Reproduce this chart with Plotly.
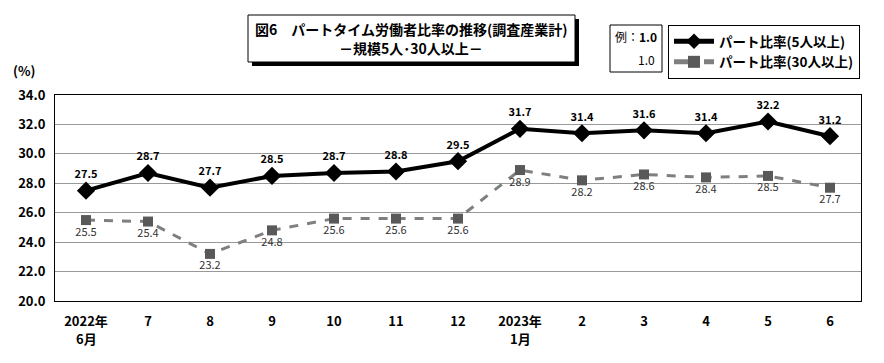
import plotly.graph_objects as go

categories = ["2022年<br>6月", "7", "8", "9", "10", "11", "12", "2023年<br>1月", "2", "3", "4", "5", "6"]
part_5 = [27.5, 28.7, 27.7, 28.5, 28.7, 28.8, 29.5, 31.7, 31.4, 31.6, 31.4, 32.2, 31.2]
part_30 = [25.5, 25.4, 23.2, 24.8, 25.6, 25.6, 25.6, 28.9, 28.2, 28.6, 28.4, 28.5, 27.7]
y_ticks = [20, 22, 24, 26, 28, 30, 32, 34]

FONT = "Noto Sans CJK JP"
OFF = 8  # default page body margin
W, H = 884 - OFF, 363 - OFF
L, R, T, B = 55 - OFF, 861 - OFF, 95 - OFF, 301 - OFF

def px(x):
    return (x - OFF - L) / (R - L)

def py(y):
    return (B - (y - OFF)) / (B - T)

xs = list(range(len(categories)))
first_lines = [c.split("<br>")[0] for c in categories]
second_lines = [c.split("<br>")[1] if "<br>" in c else "" for c in categories]

fig = go.Figure()
fig.add_trace(go.Scatter(
    x=xs, y=part_5, name="<b>パート比率(5人以上)</b>",
    mode="lines+markers+text",
    line=dict(color="black", width=4),
    marker=dict(symbol="diamond", size=14, color="black"),
    text=[f"<b>{v:.1f}</b>" for v in part_5],
    textposition="top center",
    textfont=dict(family=FONT, size=11, color="black"),
))
fig.add_trace(go.Scatter(
    x=xs, y=part_30, name="<b>パート比率(30人以上)</b>",
    mode="lines+markers+text",
    line=dict(color="#7f7f7f", width=3, dash="dash"),
    marker=dict(symbol="square", size=10, color="#595959"),
    text=[f"{v:.1f}" for v in part_30],
    textposition="bottom center",
    textfont=dict(family=FONT, size=11, color="#333333"),
))

fig.update_layout(
    width=W, height=H,
    margin=dict(l=L, r=W - R, t=T, b=H - B, autoexpand=False),
    paper_bgcolor="white", plot_bgcolor="white",
    font=dict(family=FONT, color="black"),
    showlegend=True,
    legend=dict(
        x=px(668), y=py(25), xanchor="left", yanchor="top",
        bordercolor="black", borderwidth=1,
        font=dict(family=FONT, size=13.5, color="black"),
        itemwidth=40, tracegroupgap=0, itemsizing="constant",
        bgcolor="white",
    ),
    xaxis=dict(
        range=[-0.5, len(categories) - 0.5],
        tickmode="array", tickvals=xs,
        ticktext=[f"<b>{c}</b>" for c in first_lines],
        tickfont=dict(family=FONT, size=13, color="black"),
        showgrid=False, zeroline=False,
        showline=True, linecolor="black", linewidth=1, mirror=True,
        ticks="", ticklen=0, ticklabelstandoff=8,
    ),
    yaxis=dict(
        range=[20, 34],
        tickmode="array", tickvals=y_ticks,
        ticktext=[f"<b>{v:.1f}</b>" for v in y_ticks],
        tickfont=dict(family=FONT, size=13, color="black"),
        showgrid=True, gridcolor="#999999", gridwidth=1,
        zeroline=False,
        showline=True, linecolor="black", linewidth=1, mirror=True,
        ticks="", ticklabelstandoff=6,
    ),
)

shapes = []
# title box shadow and box
shapes.append(dict(type="rect", xref="paper", yref="paper",
                   x0=px(252), x1=px(579), y0=py(66), y1=py(19),
                   fillcolor="black", line=dict(width=0), layer="above"))
shapes.append(dict(type="rect", xref="paper", yref="paper",
                   x0=px(248), x1=px(575), y0=py(62), y1=py(15),
                   fillcolor="white", line=dict(color="black", width=1), layer="above"))
# example box
shapes.append(dict(type="rect", xref="paper", yref="paper",
                   x0=px(610), x1=px(662), y0=py(72), y1=py(25),
                   fillcolor="white", line=dict(color="black", width=1), layer="above"))
fig.update_layout(shapes=shapes)

ann = [
    dict(x=px(411), y=py(29), text="<b>図6　パートタイム労働者比率の推移(調査産業計)</b>",
         font=dict(family=FONT, size=14)),
    dict(x=px(411), y=py(48), text="<b>－規模5人･30人以上－</b>",
         font=dict(family=FONT, size=14)),
    dict(x=px(636), y=py(37), text="例：<b>1.0</b>", font=dict(family=FONT, size=12)),
    dict(x=px(646), y=py(59), text="1.0", font=dict(family=FONT, size=12)),
    dict(x=px(24), y=py(70), text="<b>(%)</b>", font=dict(family=FONT, size=13)),
]
for a in ann:
    a.update(xref="paper", yref="paper", showarrow=False, xanchor="center", yanchor="middle")
for i, s in enumerate(second_lines):
    if s:
        ann.append(dict(x=i, xref="x", y=py(338), yref="paper", text=f"<b>{s}</b>",
                        showarrow=False, xanchor="center", yanchor="middle",
                        font=dict(family=FONT, size=13)))
fig.update_layout(annotations=ann)

fig.write_html("out.html")
